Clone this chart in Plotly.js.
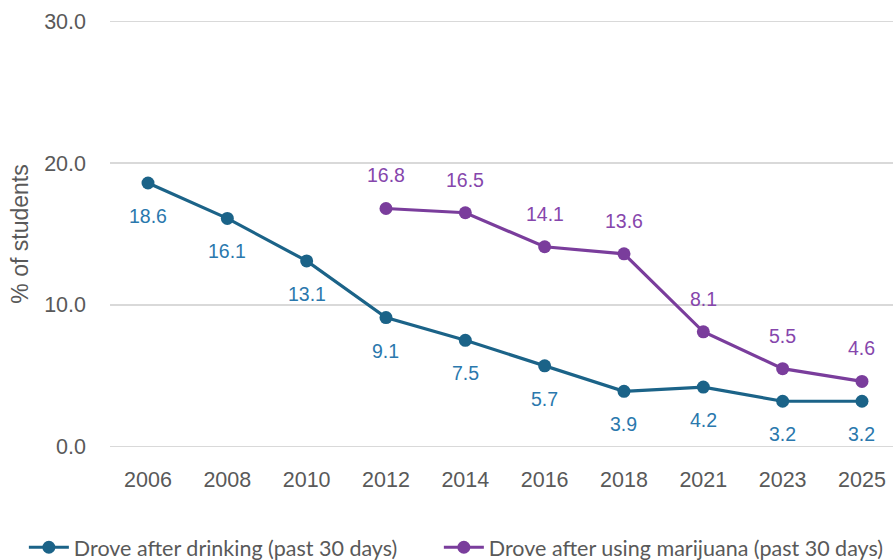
<!DOCTYPE html>
<html><head><meta charset="utf-8">
<script src="https://cdn.plot.ly/plotly-3.0.1.min.js"></script>
<style>html,body{margin:0;padding:0;background:#fff}#chart{width:893px;height:560px}</style>
</head><body><div id="chart"></div>
<script>
const years = ['2006','2008','2010','2012','2014','2016','2018','2021','2023','2025'];
const droveDrinking = [18.6,16.1,13.1,9.1,7.5,5.7,3.9,4.2,3.2,3.2];
const droveMarijuana = [null,null,null,16.8,16.5,14.1,13.6,8.1,5.5,4.6];
const seriesNames = ['Drove after drinking (past 30 days)','Drove after using marijuana (past 30 days)'];
const yTicks = [0,10,20,30];

const blue = '#1b6388', blueLbl = '#2a78ad';
const purple = '#7a3d9c', purpleLbl = '#8646ac';

const traces = [
  {x: years, y: droveDrinking, name: seriesNames[0], type:'scatter', mode:'lines+markers',
   line:{color:blue, width:3.2}, marker:{color:blue, size:13}, connectgaps:false, legend:'legend'},
  {x: years, y: droveMarijuana, name: seriesNames[1], type:'scatter', mode:'lines+markers',
   line:{color:purple, width:3.2}, marker:{color:purple, size:13}, connectgaps:false, legend:'legend2'}
];

const annotations = [];
years.forEach((yr,i)=>{
  if (droveDrinking[i]!=null) annotations.push({xref:'x', yref:'y', x:i, y:droveDrinking[i], text:droveDrinking[i].toFixed(1),
    showarrow:false, yshift:-33, font:{family:'Liberation Sans, Arial', size:19.5, color:blueLbl}});
  if (droveMarijuana[i]!=null) annotations.push({xref:'x', yref:'y', x:i, y:droveMarijuana[i], text:droveMarijuana[i].toFixed(1),
    showarrow:false, yshift:33, font:{family:'Liberation Sans, Arial', size:19.5, color:purpleLbl}});
});

const legendFont = {family:'Lato, Open Sans, sans-serif', size:21.5, color:'#595959'};
const layout = {
  width:893, height:560,
  margin:{l:110, r:0, t:19.6, b:111.6, autoexpand:false},
  paper_bgcolor:'#fff', plot_bgcolor:'#fff',
  showlegend:true,
  legend:{orientation:'h', x:-0.110, y:-0.232, xanchor:'left', yanchor:'middle', font:legendFont, itemwidth:40},
  legend2:{orientation:'h', x:0.420, y:-0.232, xanchor:'left', yanchor:'middle', font:legendFont, itemwidth:40},
  xaxis:{type:'category', range:[-0.479, 9.391], showgrid:false, zeroline:false, showline:false,
    ticks:'', ticklabelstandoff:16, tickfont:{family:'Liberation Sans, Arial', size:21.5, color:'#595959'}, fixedrange:true},
  yaxis:{range:[-0.1,30.1], tickvals:yTicks, ticktext:yTicks.map(v=>v.toFixed(1)), showgrid:true, gridcolor:'#d9d9d9', gridwidth:1.5,
    zeroline:false, showline:false, ticks:'', ticklabelstandoff:23,
    tickfont:{family:'Liberation Sans, Arial', size:21.5, color:'#595959'},
    title:{text:'% of students', font:{family:'Liberation Sans, Arial', size:23, color:'#595959'}, standoff:9}},
  annotations: annotations
};
Plotly.newPlot('chart', traces, layout, {displayModeBar:false, staticPlot:true});
</script></body></html>
